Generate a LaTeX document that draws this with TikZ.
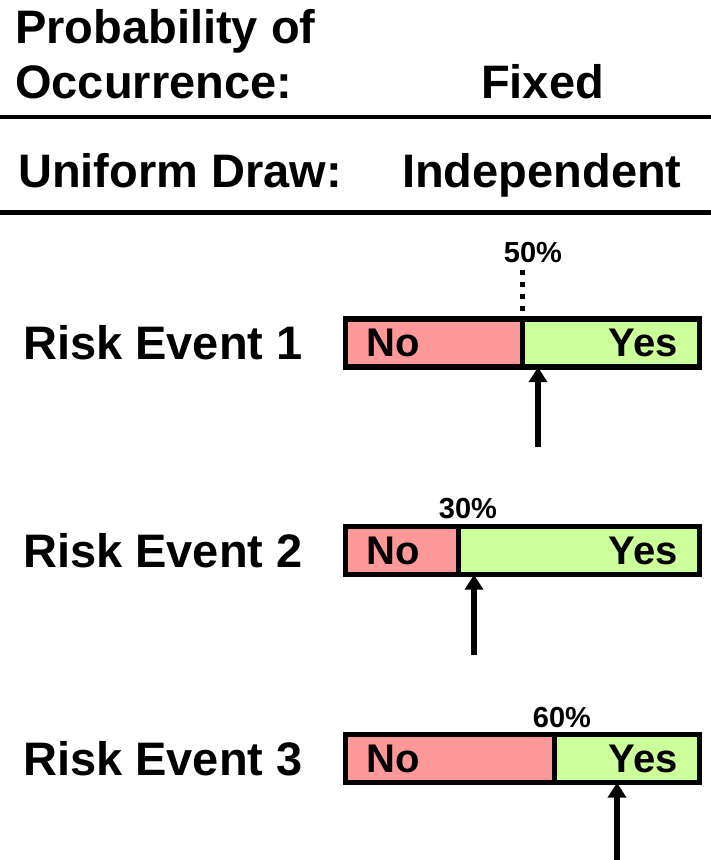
\documentclass[tikz,border=0pt]{standalone}
\usepackage{fontspec}
\setmainfont{Liberation Sans}
\usetikzlibrary{positioning,arrows.meta}
\definecolor{cNo}{HTML}{FF9999}
\definecolor{cYes}{HTML}{CCFF99}

\begin{document}
\begin{tikzpicture}[
  x=1pt,y=-1pt,
  txt/.style={inner sep=0pt,font=\bfseries\fontsize{47}{53}\selectfont},
  head/.style={txt,anchor=base west},
  bartxt/.style={inner sep=0pt,font=\bfseries\fontsize{40}{46}\selectfont},
  pct/.style={inner sep=0pt,anchor=base,font=\bfseries\fontsize{29}{34}\selectfont},
  part/.style={inner sep=0pt,minimum height=48pt,anchor=west},
  nopart/.style={part,fill=cNo},
  yespart/.style={part,fill=cYes},
  barline/.style={line width=5.5pt},
  rule/.style={line width=4.5pt},
  dotline/.style={line width=4.5pt,dash pattern=on 5pt off 7pt},
  pointer/.style={-{Triangle[width=18pt,length=15pt]},line width=6pt},
]
\useasboundingbox (0,0) rectangle (711,860);

% ---------- HEADER ----------
\node[head] (poc1) at (15,43) {Probability of};
\node[head] (poc2) at (15,98) {Occurrence:};
\node[head] (fixed) at (481,98) {Fixed};
\draw[rule] (0,117) -- (711,117);
\node[head] (udraw) at (18,187) {Uniform Draw:};
\node[head] (indep) at (402,187) {Independent};
\draw[rule] (0,212.5) -- (711,212.5);

% ---------- RISK EVENT 1 ----------
\node[nopart,minimum width=176.5pt] (no1) at (345.5,343) {};
\node[yespart,minimum width=176.5pt] (yes1) at (no1.east) {};
\draw[barline] (no1.north west) rectangle (yes1.south east);
\draw[barline] (no1.north east) -- (no1.south east);
\node[bartxt,right=20.5pt of no1.west] (no1t) {No};
\node[bartxt,left=21.5pt of yes1.east] (yes1t) {Yes};
\node[txt,anchor=west] (ev1) at (23,0 |- no1.west) {Risk Event 1};
\node[pct] (p1) at (533,262) {50\%};
\draw[dotline,shorten <=8pt,shorten >=7pt] (p1.south -| no1.north east) -- (no1.north east);
\coordinate (u1) at (538,447);
\draw[pointer] (u1) -- (u1 |- yes1.south);

% ---------- RISK EVENT 2 ----------
\node[nopart,minimum width=112.5pt] (no2) at (345.5,550.5) {};
\node[yespart,minimum width=240.5pt] (yes2) at (no2.east) {};
\draw[barline] (no2.north west) rectangle (yes2.south east);
\draw[barline] (no2.north east) -- (no2.south east);
\node[bartxt,right=20.5pt of no2.west] (no2t) {No};
\node[bartxt,left=21.5pt of yes2.east] (yes2t) {Yes};
\node[txt,anchor=west] (ev2) at (23,0 |- no2.west) {Risk Event 2};
\node[pct] (p2) at (468,518) {30\%};
\coordinate (u2) at (474,655);
\draw[pointer] (u2) -- (u2 |- yes2.south);

% ---------- RISK EVENT 3 ----------
\node[nopart,minimum width=208.5pt] (no3) at (345.5,758.5) {};
\node[yespart,minimum width=144.5pt] (yes3) at (no3.east) {};
\draw[barline] (no3.north west) rectangle (yes3.south east);
\draw[barline] (no3.north east) -- (no3.south east);
\node[bartxt,right=20.5pt of no3.west] (no3t) {No};
\node[bartxt,left=21.5pt of yes3.east] (yes3t) {Yes};
\node[txt,anchor=west] (ev3) at (23,0 |- no3.west) {Risk Event 3};
\node[pct] (p3) at (562,727) {60\%};
\coordinate (u3) at (617,862);
\draw[pointer] (u3) -- (u3 |- yes3.south);

\end{tikzpicture}
\end{document}
